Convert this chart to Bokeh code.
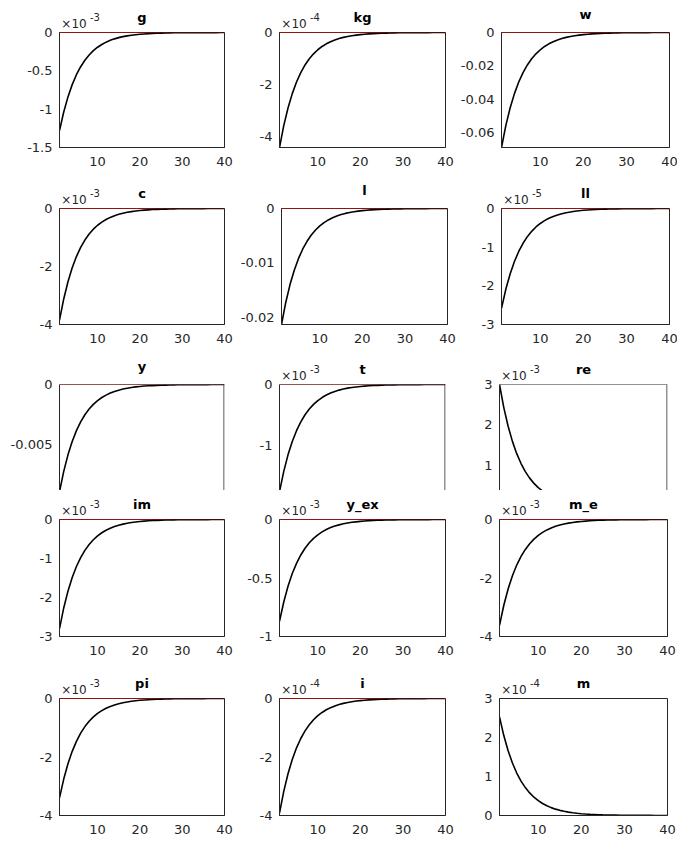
from bokeh.plotting import figure
from bokeh.layouts import column, row
from bokeh.models import Range1d, FixedTicker, CustomJSTickFormatter, LinearAxis, Span
from bokeh.embed import file_html
from bokeh.resources import INLINE

# Impulse responses over 40 periods (values in the units shown on each axis)
periods = list(range(1, 41))

g = [-1.280, -1.037, -0.840, -0.680, -0.551, -0.446, -0.362, -0.293, -0.237, -0.192,
     -0.156, -0.126, -0.102, -0.083, -0.067, -0.054, -0.044, -0.036, -0.029, -0.023,
     -0.019, -0.015, -0.012, -0.010, -0.008, -0.007, -0.005, -0.004, -0.004, -0.003,
     -0.002, -0.002, -0.002, -0.001, -0.001, -0.001, -0.001, -0.001, -0.0004, -0.0003]
kg = [-4.440, -3.596, -2.913, -2.360, -1.911, -1.548, -1.254, -1.016, -0.823, -0.666,
      -0.540, -0.437, -0.354, -0.287, -0.232, -0.188, -0.152, -0.123, -0.100, -0.081,
      -0.066, -0.053, -0.043, -0.035, -0.028, -0.023, -0.019, -0.015, -0.012, -0.010,
      -0.008, -0.006, -0.005, -0.004, -0.003, -0.003, -0.002, -0.002, -0.001, -0.001]
w = [-0.06880, -0.05573, -0.04514, -0.03656, -0.02962, -0.02399, -0.01943, -0.01574, -0.01275, -0.01033,
     -0.00836, -0.00678, -0.00549, -0.00445, -0.00360, -0.00292, -0.00236, -0.00191, -0.00155, -0.00126,
     -0.00102, -0.00082, -0.00067, -0.00054, -0.00044, -0.00035, -0.00029, -0.00023, -0.00019, -0.00015,
     -0.00012, -0.00010, -0.00008, -0.00007, -0.00005, -0.00004, -0.00003, -0.00003, -0.00002, -0.00002]
c = [-3.850, -3.119, -2.526, -2.046, -1.657, -1.342, -1.087, -0.881, -0.713, -0.578,
     -0.468, -0.379, -0.307, -0.249, -0.201, -0.163, -0.132, -0.107, -0.087, -0.070,
     -0.057, -0.046, -0.037, -0.030, -0.024, -0.020, -0.016, -0.013, -0.011, -0.009,
     -0.007, -0.006, -0.005, -0.004, -0.003, -0.002, -0.002, -0.002, -0.001, -0.001]
l = [-0.02130, -0.01725, -0.01397, -0.01132, -0.00917, -0.00743, -0.00602, -0.00487, -0.00395, -0.00320,
     -0.00259, -0.00210, -0.00170, -0.00138, -0.00111, -0.00090, -0.00073, -0.00059, -0.00048, -0.00039,
     -0.00031, -0.00026, -0.00021, -0.00017, -0.00014, -0.00011, -0.00009, -0.00007, -0.00006, -0.00005,
     -0.00004, -0.00003, -0.00003, -0.00002, -0.00002, -0.00001, -0.00001, -0.00001, -0.00001, -0.00001]
ll = [-2.580, -2.090, -1.693, -1.371, -1.111, -0.900, -0.729, -0.590, -0.478, -0.387,
      -0.314, -0.254, -0.206, -0.167, -0.135, -0.109, -0.089, -0.072, -0.058, -0.047,
      -0.038, -0.031, -0.025, -0.020, -0.016, -0.013, -0.011, -0.009, -0.007, -0.006,
      -0.005, -0.004, -0.003, -0.002, -0.002, -0.002, -0.001, -0.001, -0.001, -0.001]
y = [-0.00890, -0.00721, -0.00584, -0.00473, -0.00383, -0.00310, -0.00251, -0.00204, -0.00165, -0.00134,
     -0.00108, -0.00088, -0.00071, -0.00058, -0.00047, -0.00038, -0.00031, -0.00025, -0.00020, -0.00016,
     -0.00013, -0.00011, -0.00009, -0.00007, -0.00006, -0.00005, -0.00004, -0.00003, -0.00002, -0.00002,
     -0.00002, -0.00001, -0.00001, -0.00001, -0.00001, -0.00001, -0.000005, -0.000004, -0.000003, -0.000002]
t = [-1.760, -1.426, -1.155, -0.935, -0.758, -0.614, -0.497, -0.403, -0.326, -0.264,
     -0.214, -0.173, -0.140, -0.114, -0.092, -0.075, -0.060, -0.049, -0.040, -0.032,
     -0.026, -0.021, -0.017, -0.014, -0.011, -0.009, -0.007, -0.006, -0.005, -0.004,
     -0.003, -0.003, -0.002, -0.002, -0.001, -0.001, -0.001, -0.001, -0.001, -0.0005]
re = [3.000, 2.430, 1.968, 1.594, 1.291, 1.046, 0.847, 0.686, 0.556, 0.450,
      0.365, 0.295, 0.239, 0.194, 0.157, 0.127, 0.103, 0.083, 0.068, 0.055,
      0.044, 0.036, 0.029, 0.024, 0.019, 0.015, 0.013, 0.010, 0.008, 0.007,
      0.005, 0.004, 0.004, 0.003, 0.002, 0.002, 0.002, 0.001, 0.001, 0.001]
im = [-2.800, -2.268, -1.837, -1.488, -1.205, -0.976, -0.791, -0.641, -0.519, -0.420,
      -0.340, -0.276, -0.223, -0.181, -0.147, -0.119, -0.096, -0.078, -0.063, -0.051,
      -0.041, -0.034, -0.027, -0.022, -0.018, -0.014, -0.012, -0.009, -0.008, -0.006,
      -0.005, -0.004, -0.003, -0.003, -0.002, -0.002, -0.001, -0.001, -0.001, -0.001]
y_ex = [-0.870, -0.705, -0.571, -0.462, -0.375, -0.303, -0.246, -0.199, -0.161, -0.131,
        -0.106, -0.086, -0.069, -0.056, -0.046, -0.037, -0.030, -0.024, -0.020, -0.016,
        -0.013, -0.010, -0.008, -0.007, -0.006, -0.004, -0.004, -0.003, -0.002, -0.002,
        -0.002, -0.001, -0.001, -0.001, -0.001, -0.001, -0.0004, -0.0004, -0.0003, -0.0002]
m_e = [-3.620, -2.932, -2.375, -1.924, -1.558, -1.262, -1.022, -0.828, -0.671, -0.543,
       -0.440, -0.356, -0.289, -0.234, -0.189, -0.153, -0.124, -0.101, -0.082, -0.066,
       -0.054, -0.043, -0.035, -0.028, -0.023, -0.019, -0.015, -0.012, -0.010, -0.008,
       -0.007, -0.005, -0.004, -0.003, -0.003, -0.002, -0.002, -0.001, -0.001, -0.001]
pi = [-3.400, -2.754, -2.231, -1.807, -1.464, -1.186, -0.960, -0.778, -0.630, -0.510,
      -0.413, -0.335, -0.271, -0.220, -0.178, -0.144, -0.117, -0.095, -0.077, -0.062,
      -0.050, -0.041, -0.033, -0.027, -0.022, -0.018, -0.014, -0.011, -0.009, -0.008,
      -0.006, -0.005, -0.004, -0.003, -0.003, -0.002, -0.002, -0.001, -0.001, -0.001]
i = [-3.920, -3.175, -2.572, -2.083, -1.687, -1.367, -1.107, -0.897, -0.726, -0.588,
     -0.477, -0.386, -0.313, -0.253, -0.205, -0.166, -0.135, -0.109, -0.088, -0.072,
     -0.058, -0.047, -0.038, -0.031, -0.025, -0.020, -0.016, -0.013, -0.011, -0.009,
     -0.007, -0.006, -0.005, -0.004, -0.003, -0.002, -0.002, -0.002, -0.001, -0.001]
m = [2.530, 2.049, 1.660, 1.345, 1.089, 0.882, 0.715, 0.579, 0.469, 0.380,
     0.308, 0.249, 0.202, 0.163, 0.132, 0.107, 0.087, 0.070, 0.057, 0.046,
     0.037, 0.030, 0.025, 0.020, 0.016, 0.013, 0.011, 0.009, 0.007, 0.006,
     0.005, 0.004, 0.003, 0.002, 0.002, 0.002, 0.001, 0.001, 0.001, 0.001]

titles = ["g", "kg", "w", "c", "l", "ll", "y", "t", "re", "im", "y_ex", "m_e", "pi", "i", "m"]
series = [g, kg, w, c, l, ll, y, t, re, im, y_ex, m_e, pi, i, m]
exponents = [-3, -4, None, -3, None, -5, None, -3, -3, -3, -3, -3, -3, -4, -4]
y_lows = [-1.5, -4.44, -0.0688, -4, -0.0213, -3, -0.0088, -1.74, 0.38, -3, -1, -4, -4, -4, 0]
y_highs = [0, 0, 0, 0, 0, 0, 0, 0, 3, 0, 0, 0, 0, 0, 3]
y_ticks = [[-1.5, -1, -0.5, 0], [-4, -2, 0], [-0.06, -0.04, -0.02, 0],
           [-4, -2, 0], [-0.02, -0.01, 0], [-3, -2, -1, 0],
           [-0.005, 0], [-1, 0], [1, 2, 3],
           [-3, -2, -1, 0], [-1, -0.5, 0], [-4, -2, 0],
           [-4, -2, 0], [-4, -2, 0], [0, 1, 2, 3]]
x_ticks = [10, 20, 30, 40]

# grid geometry (pixels)
COL_LEFT = [59, 42, 42]
COL_FRAME = [165, 166, 168]
COL_RIGHT = [13, 12, 10]
ROW_TOP = [32, 32, 32, 29, 31]
ROW_FRAME = [115, 116, 106, 117, 117]
ROW_BOTTOM = [29, 28, 0, 31, 26]
CUT_ROW = 2  # this row is cut off below its frame

AX = "#262626"
FONT = "DejaVu Sans"
num_fmt = CustomJSTickFormatter(code="return String(parseFloat(tick.toPrecision(6)));")


def text_fmt(s):
    return CustomJSTickFormatter(code="return %r;" % s)


def style_axis(ax):
    ax.axis_line_color = AX
    ax.major_tick_line_color = None
    ax.minor_tick_line_color = None
    ax.major_tick_out = 0
    ax.major_tick_in = 0
    ax.minor_tick_out = 0
    ax.minor_tick_in = 0
    ax.major_label_text_font = FONT
    ax.major_label_text_font_size = "13px"
    ax.major_label_text_color = AX


def make_panel(k):
    r, col = divmod(k, 3)
    cut = (r == CUT_ROW)
    fw = COL_FRAME[col]
    px = 39.0 / fw  # data units per pixel along x
    p = figure(frame_width=fw, frame_height=ROW_FRAME[r],
               min_border_left=COL_LEFT[col], min_border_right=COL_RIGHT[col],
               min_border_top=ROW_TOP[r], min_border_bottom=ROW_BOTTOM[r],
               x_range=Range1d(1, 40), y_range=Range1d(y_lows[k], y_highs[k]),
               x_axis_location=None if cut else "below",
               toolbar_location=None, output_backend="svg")
    p.background_fill_color = "white"
    p.border_fill_color = "white"
    p.xgrid.visible = False
    p.ygrid.visible = False

    yax = p.yaxis[0]
    style_axis(yax)
    yax.ticker = FixedTicker(ticks=y_ticks[k])
    yax.formatter = num_fmt
    yax.major_label_standoff = 7
    if not cut:
        xax = p.xaxis[0]
        style_axis(xax)
        xax.ticker = FixedTicker(ticks=x_ticks)
        xax.formatter = num_fmt
        xax.major_label_standoff = 9
        p.outline_line_color = AX
        p.outline_line_alpha = 1
        p.outline_line_width = 1
    else:
        # open-bottomed box: top and right edges only
        p.outline_line_color = None
        p.add_layout(Span(location=y_highs[k], dimension="width", line_color=AX, line_width=1))
        p.add_layout(Span(location=40 - 0.5 * px, dimension="height", line_color=AX, line_width=1))

    # upper band: "x10" multiplier, its superscript power, and the panel title
    exp = exponents[k]
    base = LinearAxis(ticker=FixedTicker(ticks=[1 + 14.5 * px]),
                      formatter=text_fmt("\u00d710" if exp is not None else " "))
    style_axis(base)
    base.axis_line_color = None
    base.major_label_text_font_size = "12px"
    base.major_label_standoff = 2
    p.add_layout(base, "above")

    power = LinearAxis(ticker=FixedTicker(ticks=[1 + 35.5 * px]),
                       formatter=text_fmt(str(exp) if exp is not None else " "))
    style_axis(power)
    power.axis_line_color = None
    power.major_label_text_font_size = "10px"
    power.major_label_standoff = -7
    power.axis_label = titles[k]
    power.axis_label_text_font = FONT
    power.axis_label_text_font_style = "bold"
    power.axis_label_text_font_size = "13px"
    power.axis_label_text_color = "black"
    power.axis_label_standoff = -15
    p.add_layout(power, "above")

    p.line(periods, [0] * len(periods), line_color="red", line_width=1)
    p.line(periods, series[k], line_color="black", line_width=1.6)
    return p


panels = [make_panel(k) for k in range(15)]
p = column(*[row(*panels[3 * r:3 * r + 3]) for r in range(5)])

open("out.html", "w").write(file_html(p, INLINE))
